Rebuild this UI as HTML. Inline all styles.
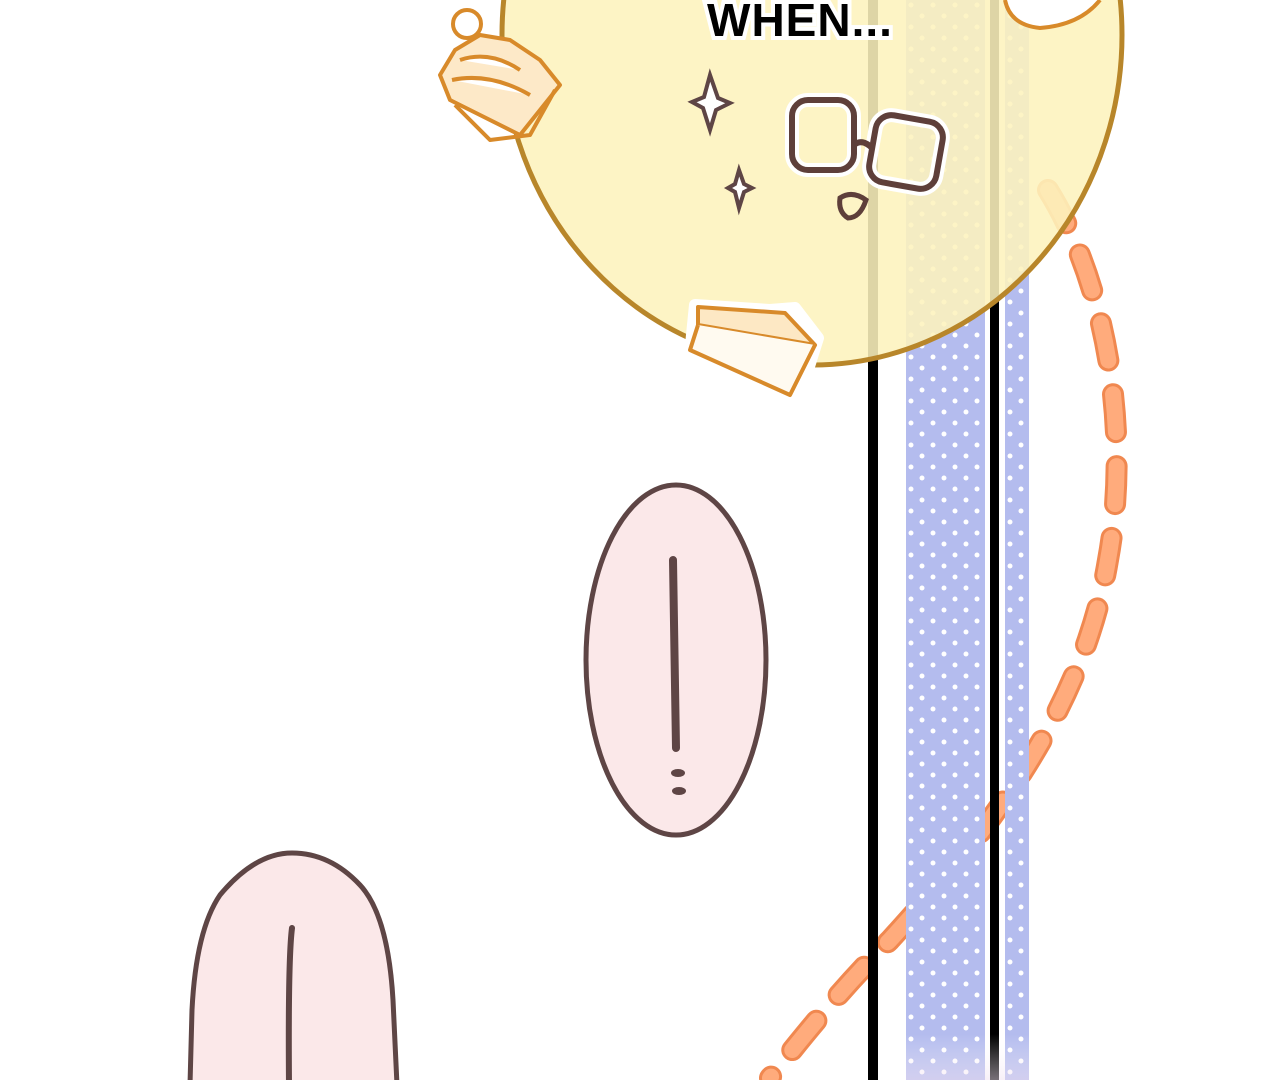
<!DOCTYPE html>
<html><head><meta charset="utf-8"><style>
html,body{margin:0;padding:0;background:#fff;width:1280px;height:1080px;overflow:hidden}
svg{display:block}
</style></head><body>
<svg width="1280" height="1080" viewBox="0 0 1280 1080" xmlns="http://www.w3.org/2000/svg">
<defs>
<pattern id="dots" x="906" y="0" width="22" height="22" patternUnits="userSpaceOnUse">
<rect width="22" height="22" fill="#b4bcee"/>
<circle cx="5" cy="5" r="2.5" fill="#fff"/>
<circle cx="16" cy="16" r="2.5" fill="#fff"/>
</pattern>
<linearGradient id="fade" x1="0" y1="0" x2="0" y2="1">
<stop offset="0.8" stop-color="#fff" stop-opacity="0"/>
<stop offset="1" stop-color="#f0e0f0" stop-opacity="0.5"/>
</linearGradient>
</defs>
<!-- orange dashed arc -->
<path d="M1048 190 C1110 290 1130 440 1108 560 C1085 700 1000 820 890 940 C840 990 800 1040 770 1078" fill="none" stroke="#f08850" stroke-width="22" stroke-dasharray="38 34" stroke-linecap="round"/>
<path d="M1048 190 C1110 290 1130 440 1108 560 C1085 700 1000 820 890 940 C840 990 800 1040 770 1078" fill="none" stroke="#ffab7c" stroke-width="16" stroke-dasharray="38 34" stroke-linecap="round"/>
<!-- strips -->
<rect x="868" y="0" width="10" height="1080" fill="#000"/>
<rect x="906" y="0" width="79" height="1080" fill="url(#dots)"/>
<rect x="990" y="0" width="9" height="1080" fill="#000"/>
<rect x="1005" y="0" width="24" height="1080" fill="url(#dots)"/>
<rect x="906" y="850" width="123" height="230" fill="url(#fade)"/>
<!-- yellow circle -->
<ellipse cx="812" cy="35" rx="310" ry="330" fill="#fdf2bd" fill-opacity="0.88" stroke="#b8862a" stroke-width="5"/>
<!-- text -->
<text x="800" y="36" text-anchor="middle" font-family="Liberation Sans, sans-serif" font-weight="bold" font-size="46" letter-spacing="1" fill="#000" stroke="#fff" stroke-width="8" paint-order="stroke">WHEN...</text>
<!-- cupcake -->
<g fill="#fff" stroke="#d88a2a" stroke-width="4" stroke-linejoin="round">
<path d="M450 100 L520 135 L540 110 L560 85 L540 60 L510 40 L480 35 L455 50 L440 75 Z" fill="#fde9c8"/>
<path d="M455 105 L490 140 L530 135 L555 90" fill="none"/>
<circle cx="467" cy="24" r="14"/>
<path d="M460 60 Q490 50 520 70 M452 80 Q490 72 530 95"/>
</g>
<!-- sparkles -->
<path d="M710 75 L718 98 L730 103 L716 110 L710 130 L703 108 L692 102 L704 97 Z" fill="#fff" stroke="#5e4545" stroke-width="4"/>
<path d="M739 170 L744 184 L752 188 L744 192 L739 208 L735 192 L728 188 L735 184 Z" fill="#fff" stroke="#5e4545" stroke-width="4"/>
<!-- glasses -->
<g fill="none" stroke="#fff" stroke-width="14">
<rect x="792" y="100" width="62" height="70" rx="16"/><rect x="872" y="118" width="68" height="68" rx="16" transform="rotate(10 906 152)"/>
</g>
<g fill="none" stroke="#5e3f3a" stroke-width="6">
<rect x="792" y="100" width="62" height="70" rx="16"/><rect x="872" y="118" width="68" height="68" rx="16" transform="rotate(10 906 152)"/>
<path d="M854 145 Q862 138 872 148"/>
<path d="M840 198 Q852 190 866 200 Q860 218 848 218 Q838 212 840 198 Z" stroke-width="5"/>
</g>
<!-- cheesecake -->
<g stroke="#d88a2a" stroke-width="4" stroke-linejoin="round">
<path d="M695 305 L770 310 L795 308 L818 338 L800 395 L690 355 Z" fill="#fff" stroke="#fff" stroke-width="12"/>
<path d="M698 307 L785 313 L815 345 L698 325 Z" fill="#fde8c4"/>
<path d="M698 325 L690 350 L790 395 L815 345" fill="#fffaf0"/>
</g>
<!-- top-right doodle fragment -->
<path d="M1005 0 Q1010 25 1040 28 Q1080 25 1100 0" fill="#fff" stroke="#d88a2a" stroke-width="4"/>
<!-- pink oval -->
<ellipse cx="676" cy="660" rx="90" ry="175" fill="#fbe8e9" stroke="#5e4545" stroke-width="5"/>
<path d="M673 560 L676 748" stroke="#5e4545" stroke-width="8" stroke-linecap="round"/>
<ellipse cx="678" cy="773" rx="7" ry="4" fill="#5e4545"/>
<ellipse cx="679" cy="791" rx="7" ry="4" fill="#5e4545"/>
<!-- bottom shape -->
<path d="M190 1085 L192 1010 Q196 930 220 895 Q255 853 292 853 Q330 853 360 885 Q388 915 393 1000 L397 1085 Z" fill="#fbe8e9" stroke="#5e4545" stroke-width="5"/>
<path d="M292 928 Q288 960 289 1085" fill="none" stroke="#5e4545" stroke-width="6" stroke-linecap="round"/>
</svg>
</body></html>
